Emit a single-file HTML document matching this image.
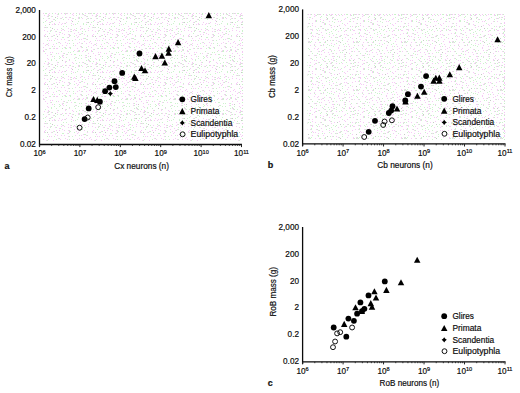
<!DOCTYPE html>
<html><head><meta charset="utf-8"><title>Scaling plots</title>
<style>html,body{margin:0;padding:0;background:#fff;width:520px;height:393px;overflow:hidden}svg{display:block}text{font-family:"Liberation Sans", sans-serif;stroke:#000;stroke-width:0.18px;fill:#111}</style>
</head><body>
<svg width="520" height="393" viewBox="0 0 520 393" font-family='"Liberation Sans", sans-serif' fill="#1a1a1a">
<defs><pattern id="pa" x="0" y="0" width="48" height="48" patternUnits="userSpaceOnUse"><rect x="1" y="0" width="1" height="1" fill="#f5cbf5"/><rect x="2" y="0" width="1" height="1" fill="#cdf3cd"/><rect x="5" y="0" width="1" height="1" fill="#f5cbf5"/><rect x="6" y="0" width="1" height="1" fill="#cdf3cd"/><rect x="8" y="0" width="1" height="1" fill="#f5cbf5"/><rect x="9" y="0" width="1" height="1" fill="#f5cbf5"/><rect x="14" y="0" width="1" height="1" fill="#cdf3cd"/><rect x="17" y="0" width="1" height="1" fill="#cdf3cd"/><rect x="18" y="0" width="1" height="1" fill="#cdf3cd"/><rect x="22" y="0" width="1" height="1" fill="#cdf3cd"/><rect x="26" y="2" width="1" height="1" fill="#f5cbf5"/><rect x="29" y="0" width="1" height="1" fill="#f5cbf5"/><rect x="30" y="2" width="1" height="1" fill="#f5cbf5"/><rect x="31" y="2" width="1" height="1" fill="#cdf3cd"/><rect x="35" y="2" width="1" height="1" fill="#f5cbf5"/><rect x="38" y="1" width="1" height="1" fill="#f5cbf5"/><rect x="39" y="1" width="1" height="1" fill="#cdf3cd"/><rect x="39" y="2" width="1" height="1" fill="#cdf3cd"/><rect x="38" y="2" width="1" height="1" fill="#f5cbf5"/><rect x="43" y="2" width="1" height="1" fill="#f5cbf5"/><rect x="46" y="1" width="1" height="1" fill="#cdf3cd"/><rect x="45" y="1" width="1" height="1" fill="#f5cbf5"/><rect x="2" y="4" width="1" height="1" fill="#f5cbf5"/><rect x="4" y="4" width="1" height="1" fill="#f5cbf5"/><rect x="8" y="5" width="1" height="1" fill="#cdf3cd"/><rect x="10" y="5" width="1" height="1" fill="#f5cbf5"/><rect x="13" y="3" width="1" height="1" fill="#cdf3cd"/><rect x="16" y="5" width="1" height="1" fill="#cdf3cd"/><rect x="15" y="5" width="1" height="1" fill="#f5cbf5"/><rect x="20" y="4" width="1" height="1" fill="#cdf3cd"/><rect x="22" y="4" width="1" height="1" fill="#cdf3cd"/><rect x="25" y="3" width="1" height="1" fill="#cdf3cd"/><rect x="29" y="3" width="1" height="1" fill="#f5cbf5"/><rect x="30" y="3" width="1" height="1" fill="#cdf3cd"/><rect x="31" y="3" width="1" height="1" fill="#cdf3cd"/><rect x="34" y="3" width="1" height="1" fill="#f5cbf5"/><rect x="37" y="3" width="1" height="1" fill="#cdf3cd"/><rect x="40" y="5" width="1" height="1" fill="#f5cbf5"/><rect x="43" y="3" width="1" height="1" fill="#f5cbf5"/><rect x="44" y="3" width="1" height="1" fill="#cdf3cd"/><rect x="45" y="5" width="1" height="1" fill="#f5cbf5"/><rect x="2" y="6" width="1" height="1" fill="#f5cbf5"/><rect x="3" y="6" width="1" height="1" fill="#cdf3cd"/><rect x="4" y="8" width="1" height="1" fill="#f5cbf5"/><rect x="6" y="8" width="1" height="1" fill="#cdf3cd"/><rect x="11" y="8" width="1" height="1" fill="#cdf3cd"/><rect x="14" y="8" width="1" height="1" fill="#f5cbf5"/><rect x="15" y="7" width="1" height="1" fill="#cdf3cd"/><rect x="14" y="7" width="1" height="1" fill="#f5cbf5"/><rect x="18" y="6" width="1" height="1" fill="#f5cbf5"/><rect x="19" y="6" width="1" height="1" fill="#cdf3cd"/><rect x="23" y="6" width="1" height="1" fill="#f5cbf5"/><rect x="26" y="6" width="1" height="1" fill="#cdf3cd"/><rect x="27" y="6" width="1" height="1" fill="#cdf3cd"/><rect x="31" y="7" width="1" height="1" fill="#cdf3cd"/><rect x="33" y="7" width="1" height="1" fill="#cdf3cd"/><rect x="37" y="7" width="1" height="1" fill="#f5cbf5"/><rect x="38" y="7" width="1" height="1" fill="#cdf3cd"/><rect x="40" y="8" width="1" height="1" fill="#f5cbf5"/><rect x="42" y="8" width="1" height="1" fill="#c6cac6"/><rect x="47" y="7" width="1" height="1" fill="#f5cbf5"/><rect x="0" y="11" width="1" height="1" fill="#f5cbf5"/><rect x="3" y="11" width="1" height="1" fill="#cdf3cd"/><rect x="6" y="10" width="1" height="1" fill="#cdf3cd"/><rect x="11" y="10" width="1" height="1" fill="#cdf3cd"/><rect x="12" y="9" width="1" height="1" fill="#cdf3cd"/><rect x="15" y="9" width="1" height="1" fill="#f5cbf5"/><rect x="18" y="9" width="1" height="1" fill="#cdf3cd"/><rect x="21" y="11" width="1" height="1" fill="#cdf3cd"/><rect x="26" y="10" width="1" height="1" fill="#cdf3cd"/><rect x="27" y="9" width="1" height="1" fill="#f5cbf5"/><rect x="28" y="9" width="1" height="1" fill="#cdf3cd"/><rect x="30" y="10" width="1" height="1" fill="#cdf3cd"/><rect x="33" y="10" width="1" height="1" fill="#cdf3cd"/><rect x="38" y="9" width="1" height="1" fill="#cdf3cd"/><rect x="37" y="9" width="1" height="1" fill="#f5cbf5"/><rect x="40" y="11" width="1" height="1" fill="#cdf3cd"/><rect x="42" y="10" width="1" height="1" fill="#cdf3cd"/><rect x="47" y="10" width="1" height="1" fill="#f5cbf5"/><rect x="0" y="14" width="1" height="1" fill="#f5cbf5"/><rect x="3" y="12" width="1" height="1" fill="#cdf3cd"/><rect x="8" y="12" width="1" height="1" fill="#cdf3cd"/><rect x="10" y="14" width="1" height="1" fill="#cdf3cd"/><rect x="9" y="14" width="1" height="1" fill="#f5cbf5"/><rect x="14" y="12" width="1" height="1" fill="#c6cac6"/><rect x="17" y="14" width="1" height="1" fill="#f5cbf5"/><rect x="18" y="13" width="1" height="1" fill="#cdf3cd"/><rect x="17" y="13" width="1" height="1" fill="#f5cbf5"/><rect x="21" y="12" width="1" height="1" fill="#f5cbf5"/><rect x="24" y="14" width="1" height="1" fill="#f5cbf5"/><rect x="27" y="12" width="1" height="1" fill="#cdf3cd"/><rect x="31" y="14" width="1" height="1" fill="#cdf3cd"/><rect x="34" y="14" width="1" height="1" fill="#f5cbf5"/><rect x="35" y="14" width="1" height="1" fill="#cdf3cd"/><rect x="38" y="12" width="1" height="1" fill="#cdf3cd"/><rect x="41" y="12" width="1" height="1" fill="#cdf3cd"/><rect x="40" y="12" width="1" height="1" fill="#f5cbf5"/><rect x="42" y="13" width="1" height="1" fill="#cdf3cd"/><rect x="41" y="13" width="1" height="1" fill="#f5cbf5"/><rect x="45" y="13" width="1" height="1" fill="#cdf3cd"/><rect x="1" y="15" width="1" height="1" fill="#cdf3cd"/><rect x="0" y="15" width="1" height="1" fill="#f5cbf5"/><rect x="3" y="16" width="1" height="1" fill="#f5cbf5"/><rect x="4" y="16" width="1" height="1" fill="#cdf3cd"/><rect x="7" y="17" width="1" height="1" fill="#c6cac6"/><rect x="9" y="16" width="1" height="1" fill="#f5cbf5"/><rect x="14" y="17" width="1" height="1" fill="#f5cbf5"/><rect x="17" y="17" width="1" height="1" fill="#cdf3cd"/><rect x="18" y="17" width="1" height="1" fill="#f5cbf5"/><rect x="22" y="17" width="1" height="1" fill="#cdf3cd"/><rect x="21" y="17" width="1" height="1" fill="#f5cbf5"/><rect x="25" y="15" width="1" height="1" fill="#f5cbf5"/><rect x="28" y="15" width="1" height="1" fill="#cdf3cd"/><rect x="30" y="17" width="1" height="1" fill="#f5cbf5"/><rect x="31" y="17" width="1" height="1" fill="#cdf3cd"/><rect x="33" y="17" width="1" height="1" fill="#cdf3cd"/><rect x="37" y="15" width="1" height="1" fill="#cdf3cd"/><rect x="36" y="15" width="1" height="1" fill="#f5cbf5"/><rect x="39" y="16" width="1" height="1" fill="#cdf3cd"/><rect x="38" y="16" width="1" height="1" fill="#f5cbf5"/><rect x="44" y="15" width="1" height="1" fill="#f5cbf5"/><rect x="47" y="16" width="1" height="1" fill="#f5cbf5"/><rect x="0" y="16" width="1" height="1" fill="#cdf3cd"/><rect x="1" y="18" width="1" height="1" fill="#cdf3cd"/><rect x="0" y="18" width="1" height="1" fill="#f5cbf5"/><rect x="5" y="19" width="1" height="1" fill="#f5cbf5"/><rect x="6" y="19" width="1" height="1" fill="#cdf3cd"/><rect x="7" y="20" width="1" height="1" fill="#cdf3cd"/><rect x="9" y="18" width="1" height="1" fill="#cdf3cd"/><rect x="12" y="18" width="1" height="1" fill="#f5cbf5"/><rect x="13" y="18" width="1" height="1" fill="#cdf3cd"/><rect x="15" y="19" width="1" height="1" fill="#cdf3cd"/><rect x="20" y="19" width="1" height="1" fill="#f5cbf5"/><rect x="23" y="20" width="1" height="1" fill="#f5cbf5"/><rect x="25" y="18" width="1" height="1" fill="#cdf3cd"/><rect x="24" y="18" width="1" height="1" fill="#f5cbf5"/><rect x="27" y="19" width="1" height="1" fill="#cdf3cd"/><rect x="31" y="18" width="1" height="1" fill="#cdf3cd"/><rect x="30" y="18" width="1" height="1" fill="#f5cbf5"/><rect x="34" y="18" width="1" height="1" fill="#f5cbf5"/><rect x="38" y="19" width="1" height="1" fill="#cdf3cd"/><rect x="39" y="18" width="1" height="1" fill="#f5cbf5"/><rect x="40" y="18" width="1" height="1" fill="#cdf3cd"/><rect x="42" y="18" width="1" height="1" fill="#f5cbf5"/><rect x="43" y="18" width="1" height="1" fill="#cdf3cd"/><rect x="46" y="20" width="1" height="1" fill="#f5cbf5"/><rect x="1" y="22" width="1" height="1" fill="#f5cbf5"/><rect x="2" y="22" width="1" height="1" fill="#cdf3cd"/><rect x="4" y="21" width="1" height="1" fill="#cdf3cd"/><rect x="3" y="21" width="1" height="1" fill="#f5cbf5"/><rect x="6" y="23" width="1" height="1" fill="#f5cbf5"/><rect x="11" y="22" width="1" height="1" fill="#f5cbf5"/><rect x="14" y="23" width="1" height="1" fill="#f5cbf5"/><rect x="16" y="23" width="1" height="1" fill="#f5cbf5"/><rect x="17" y="23" width="1" height="1" fill="#cdf3cd"/><rect x="18" y="22" width="1" height="1" fill="#f5cbf5"/><rect x="23" y="23" width="1" height="1" fill="#f5cbf5"/><rect x="24" y="21" width="1" height="1" fill="#c6cac6"/><rect x="29" y="23" width="1" height="1" fill="#cdf3cd"/><rect x="30" y="21" width="1" height="1" fill="#cdf3cd"/><rect x="35" y="23" width="1" height="1" fill="#cdf3cd"/><rect x="38" y="22" width="1" height="1" fill="#f5cbf5"/><rect x="39" y="22" width="1" height="1" fill="#cdf3cd"/><rect x="40" y="22" width="1" height="1" fill="#c6cac6"/><rect x="43" y="22" width="1" height="1" fill="#cdf3cd"/><rect x="45" y="21" width="1" height="1" fill="#cdf3cd"/><rect x="1" y="24" width="1" height="1" fill="#c6cac6"/><rect x="4" y="24" width="1" height="1" fill="#f5cbf5"/><rect x="6" y="24" width="1" height="1" fill="#f5cbf5"/><rect x="7" y="24" width="1" height="1" fill="#cdf3cd"/><rect x="10" y="24" width="1" height="1" fill="#f5cbf5"/><rect x="13" y="24" width="1" height="1" fill="#f5cbf5"/><rect x="15" y="26" width="1" height="1" fill="#cdf3cd"/><rect x="18" y="26" width="1" height="1" fill="#cdf3cd"/><rect x="23" y="25" width="1" height="1" fill="#cdf3cd"/><rect x="25" y="24" width="1" height="1" fill="#f5cbf5"/><rect x="27" y="24" width="1" height="1" fill="#cdf3cd"/><rect x="32" y="26" width="1" height="1" fill="#f5cbf5"/><rect x="35" y="24" width="1" height="1" fill="#cdf3cd"/><rect x="38" y="24" width="1" height="1" fill="#cdf3cd"/><rect x="41" y="26" width="1" height="1" fill="#cdf3cd"/><rect x="42" y="24" width="1" height="1" fill="#f5cbf5"/><rect x="45" y="25" width="1" height="1" fill="#cdf3cd"/><rect x="2" y="27" width="1" height="1" fill="#cdf3cd"/><rect x="4" y="28" width="1" height="1" fill="#c6cac6"/><rect x="6" y="29" width="1" height="1" fill="#cdf3cd"/><rect x="9" y="29" width="1" height="1" fill="#f5cbf5"/><rect x="13" y="28" width="1" height="1" fill="#cdf3cd"/><rect x="15" y="29" width="1" height="1" fill="#cdf3cd"/><rect x="14" y="29" width="1" height="1" fill="#f5cbf5"/><rect x="20" y="28" width="1" height="1" fill="#f5cbf5"/><rect x="22" y="29" width="1" height="1" fill="#f5cbf5"/><rect x="23" y="29" width="1" height="1" fill="#cdf3cd"/><rect x="26" y="29" width="1" height="1" fill="#f5cbf5"/><rect x="28" y="28" width="1" height="1" fill="#cdf3cd"/><rect x="32" y="29" width="1" height="1" fill="#f5cbf5"/><rect x="34" y="28" width="1" height="1" fill="#cdf3cd"/><rect x="33" y="28" width="1" height="1" fill="#f5cbf5"/><rect x="36" y="29" width="1" height="1" fill="#f5cbf5"/><rect x="40" y="28" width="1" height="1" fill="#f5cbf5"/><rect x="44" y="27" width="1" height="1" fill="#f5cbf5"/><rect x="45" y="27" width="1" height="1" fill="#cdf3cd"/><rect x="46" y="27" width="1" height="1" fill="#f5cbf5"/><rect x="47" y="27" width="1" height="1" fill="#cdf3cd"/><rect x="2" y="31" width="1" height="1" fill="#cdf3cd"/><rect x="3" y="30" width="1" height="1" fill="#cdf3cd"/><rect x="2" y="30" width="1" height="1" fill="#f5cbf5"/><rect x="8" y="31" width="1" height="1" fill="#cdf3cd"/><rect x="7" y="31" width="1" height="1" fill="#f5cbf5"/><rect x="11" y="32" width="1" height="1" fill="#f5cbf5"/><rect x="12" y="32" width="1" height="1" fill="#cdf3cd"/><rect x="13" y="30" width="1" height="1" fill="#f5cbf5"/><rect x="16" y="30" width="1" height="1" fill="#f5cbf5"/><rect x="20" y="31" width="1" height="1" fill="#f5cbf5"/><rect x="22" y="31" width="1" height="1" fill="#f5cbf5"/><rect x="23" y="31" width="1" height="1" fill="#cdf3cd"/><rect x="25" y="30" width="1" height="1" fill="#f5cbf5"/><rect x="28" y="30" width="1" height="1" fill="#cdf3cd"/><rect x="27" y="30" width="1" height="1" fill="#f5cbf5"/><rect x="30" y="32" width="1" height="1" fill="#f5cbf5"/><rect x="34" y="31" width="1" height="1" fill="#cdf3cd"/><rect x="37" y="31" width="1" height="1" fill="#cdf3cd"/><rect x="40" y="30" width="1" height="1" fill="#f5cbf5"/><rect x="44" y="30" width="1" height="1" fill="#f5cbf5"/><rect x="47" y="31" width="1" height="1" fill="#f5cbf5"/><rect x="1" y="33" width="1" height="1" fill="#cdf3cd"/><rect x="5" y="35" width="1" height="1" fill="#f5cbf5"/><rect x="6" y="35" width="1" height="1" fill="#cdf3cd"/><rect x="8" y="34" width="1" height="1" fill="#f5cbf5"/><rect x="11" y="34" width="1" height="1" fill="#f5cbf5"/><rect x="14" y="33" width="1" height="1" fill="#f5cbf5"/><rect x="16" y="34" width="1" height="1" fill="#f5cbf5"/><rect x="20" y="34" width="1" height="1" fill="#f5cbf5"/><rect x="21" y="34" width="1" height="1" fill="#cdf3cd"/><rect x="22" y="35" width="1" height="1" fill="#cdf3cd"/><rect x="21" y="35" width="1" height="1" fill="#f5cbf5"/><rect x="26" y="33" width="1" height="1" fill="#f5cbf5"/><rect x="28" y="35" width="1" height="1" fill="#f5cbf5"/><rect x="31" y="34" width="1" height="1" fill="#f5cbf5"/><rect x="32" y="34" width="1" height="1" fill="#cdf3cd"/><rect x="33" y="33" width="1" height="1" fill="#f5cbf5"/><rect x="34" y="33" width="1" height="1" fill="#cdf3cd"/><rect x="36" y="34" width="1" height="1" fill="#f5cbf5"/><rect x="39" y="35" width="1" height="1" fill="#cdf3cd"/><rect x="44" y="35" width="1" height="1" fill="#f5cbf5"/><rect x="45" y="34" width="1" height="1" fill="#f5cbf5"/><rect x="0" y="38" width="1" height="1" fill="#f5cbf5"/><rect x="3" y="36" width="1" height="1" fill="#f5cbf5"/><rect x="4" y="36" width="1" height="1" fill="#cdf3cd"/><rect x="7" y="38" width="1" height="1" fill="#f5cbf5"/><rect x="9" y="36" width="1" height="1" fill="#c6cac6"/><rect x="14" y="37" width="1" height="1" fill="#cdf3cd"/><rect x="15" y="37" width="1" height="1" fill="#cdf3cd"/><rect x="20" y="37" width="1" height="1" fill="#cdf3cd"/><rect x="19" y="37" width="1" height="1" fill="#f5cbf5"/><rect x="21" y="36" width="1" height="1" fill="#f5cbf5"/><rect x="26" y="36" width="1" height="1" fill="#cdf3cd"/><rect x="29" y="37" width="1" height="1" fill="#f5cbf5"/><rect x="30" y="36" width="1" height="1" fill="#f5cbf5"/><rect x="35" y="38" width="1" height="1" fill="#f5cbf5"/><rect x="36" y="38" width="1" height="1" fill="#cdf3cd"/><rect x="37" y="38" width="1" height="1" fill="#cdf3cd"/><rect x="39" y="36" width="1" height="1" fill="#f5cbf5"/><rect x="44" y="36" width="1" height="1" fill="#f5cbf5"/><rect x="45" y="36" width="1" height="1" fill="#cdf3cd"/><rect x="47" y="36" width="1" height="1" fill="#c6cac6"/><rect x="1" y="40" width="1" height="1" fill="#f5cbf5"/><rect x="3" y="40" width="1" height="1" fill="#f5cbf5"/><rect x="6" y="40" width="1" height="1" fill="#cdf3cd"/><rect x="9" y="39" width="1" height="1" fill="#f5cbf5"/><rect x="13" y="39" width="1" height="1" fill="#f5cbf5"/><rect x="16" y="39" width="1" height="1" fill="#f5cbf5"/><rect x="20" y="40" width="1" height="1" fill="#f5cbf5"/><rect x="21" y="40" width="1" height="1" fill="#cdf3cd"/><rect x="24" y="40" width="1" height="1" fill="#cdf3cd"/><rect x="27" y="39" width="1" height="1" fill="#f5cbf5"/><rect x="31" y="39" width="1" height="1" fill="#cdf3cd"/><rect x="33" y="39" width="1" height="1" fill="#f5cbf5"/><rect x="36" y="41" width="1" height="1" fill="#f5cbf5"/><rect x="39" y="39" width="1" height="1" fill="#cdf3cd"/><rect x="38" y="39" width="1" height="1" fill="#f5cbf5"/><rect x="42" y="41" width="1" height="1" fill="#f5cbf5"/><rect x="47" y="40" width="1" height="1" fill="#cdf3cd"/><rect x="0" y="43" width="1" height="1" fill="#f5cbf5"/><rect x="5" y="44" width="1" height="1" fill="#f5cbf5"/><rect x="8" y="43" width="1" height="1" fill="#cdf3cd"/><rect x="10" y="42" width="1" height="1" fill="#f5cbf5"/><rect x="11" y="42" width="1" height="1" fill="#cdf3cd"/><rect x="12" y="43" width="1" height="1" fill="#f5cbf5"/><rect x="17" y="42" width="1" height="1" fill="#f5cbf5"/><rect x="19" y="43" width="1" height="1" fill="#f5cbf5"/><rect x="21" y="43" width="1" height="1" fill="#cdf3cd"/><rect x="25" y="43" width="1" height="1" fill="#cdf3cd"/><rect x="29" y="43" width="1" height="1" fill="#f5cbf5"/><rect x="31" y="42" width="1" height="1" fill="#f5cbf5"/><rect x="33" y="43" width="1" height="1" fill="#f5cbf5"/><rect x="34" y="43" width="1" height="1" fill="#cdf3cd"/><rect x="38" y="43" width="1" height="1" fill="#f5cbf5"/><rect x="41" y="42" width="1" height="1" fill="#f5cbf5"/><rect x="43" y="43" width="1" height="1" fill="#f5cbf5"/><rect x="47" y="44" width="1" height="1" fill="#cdf3cd"/><rect x="46" y="44" width="1" height="1" fill="#f5cbf5"/><rect x="0" y="45" width="1" height="1" fill="#f5cbf5"/><rect x="4" y="46" width="1" height="1" fill="#cdf3cd"/><rect x="6" y="46" width="1" height="1" fill="#f5cbf5"/><rect x="11" y="46" width="1" height="1" fill="#cdf3cd"/><rect x="14" y="45" width="1" height="1" fill="#f5cbf5"/><rect x="16" y="47" width="1" height="1" fill="#f5cbf5"/><rect x="17" y="47" width="1" height="1" fill="#cdf3cd"/><rect x="18" y="45" width="1" height="1" fill="#f5cbf5"/><rect x="22" y="47" width="1" height="1" fill="#cdf3cd"/><rect x="21" y="47" width="1" height="1" fill="#f5cbf5"/><rect x="25" y="45" width="1" height="1" fill="#cdf3cd"/><rect x="27" y="45" width="1" height="1" fill="#f5cbf5"/><rect x="32" y="46" width="1" height="1" fill="#f5cbf5"/><rect x="33" y="46" width="1" height="1" fill="#cdf3cd"/><rect x="34" y="47" width="1" height="1" fill="#cdf3cd"/><rect x="33" y="47" width="1" height="1" fill="#f5cbf5"/><rect x="38" y="47" width="1" height="1" fill="#cdf3cd"/><rect x="40" y="46" width="1" height="1" fill="#f5cbf5"/><rect x="43" y="47" width="1" height="1" fill="#f5cbf5"/><rect x="45" y="45" width="1" height="1" fill="#f5cbf5"/></pattern><pattern id="pb" x="0" y="0" width="48" height="48" patternUnits="userSpaceOnUse"><rect x="2" y="0" width="1" height="1" fill="#f5cbf5"/><rect x="3" y="2" width="1" height="1" fill="#f5cbf5"/><rect x="6" y="2" width="1" height="1" fill="#f5cbf5"/><rect x="7" y="2" width="1" height="1" fill="#cdf3cd"/><rect x="9" y="1" width="1" height="1" fill="#cdf3cd"/><rect x="8" y="1" width="1" height="1" fill="#f5cbf5"/><rect x="13" y="1" width="1" height="1" fill="#f5cbf5"/><rect x="15" y="0" width="1" height="1" fill="#f5cbf5"/><rect x="20" y="0" width="1" height="1" fill="#cdf3cd"/><rect x="21" y="1" width="1" height="1" fill="#cdf3cd"/><rect x="26" y="0" width="1" height="1" fill="#f5cbf5"/><rect x="29" y="1" width="1" height="1" fill="#f5cbf5"/><rect x="30" y="0" width="1" height="1" fill="#f5cbf5"/><rect x="35" y="2" width="1" height="1" fill="#cdf3cd"/><rect x="34" y="2" width="1" height="1" fill="#f5cbf5"/><rect x="36" y="1" width="1" height="1" fill="#f5cbf5"/><rect x="41" y="1" width="1" height="1" fill="#f5cbf5"/><rect x="42" y="1" width="1" height="1" fill="#cdf3cd"/><rect x="43" y="2" width="1" height="1" fill="#f5cbf5"/><rect x="46" y="2" width="1" height="1" fill="#cdf3cd"/><rect x="0" y="5" width="1" height="1" fill="#f5cbf5"/><rect x="4" y="4" width="1" height="1" fill="#cdf3cd"/><rect x="6" y="4" width="1" height="1" fill="#cdf3cd"/><rect x="10" y="4" width="1" height="1" fill="#c6cac6"/><rect x="13" y="5" width="1" height="1" fill="#f5cbf5"/><rect x="15" y="3" width="1" height="1" fill="#f5cbf5"/><rect x="16" y="3" width="1" height="1" fill="#cdf3cd"/><rect x="18" y="3" width="1" height="1" fill="#f5cbf5"/><rect x="22" y="3" width="1" height="1" fill="#f5cbf5"/><rect x="23" y="3" width="1" height="1" fill="#cdf3cd"/><rect x="24" y="5" width="1" height="1" fill="#cdf3cd"/><rect x="29" y="5" width="1" height="1" fill="#cdf3cd"/><rect x="30" y="3" width="1" height="1" fill="#f5cbf5"/><rect x="31" y="3" width="1" height="1" fill="#cdf3cd"/><rect x="33" y="3" width="1" height="1" fill="#f5cbf5"/><rect x="36" y="4" width="1" height="1" fill="#f5cbf5"/><rect x="40" y="4" width="1" height="1" fill="#f5cbf5"/><rect x="43" y="3" width="1" height="1" fill="#cdf3cd"/><rect x="45" y="5" width="1" height="1" fill="#cdf3cd"/><rect x="44" y="5" width="1" height="1" fill="#f5cbf5"/><rect x="1" y="8" width="1" height="1" fill="#cdf3cd"/><rect x="3" y="8" width="1" height="1" fill="#f5cbf5"/><rect x="8" y="6" width="1" height="1" fill="#f5cbf5"/><rect x="9" y="6" width="1" height="1" fill="#cdf3cd"/><rect x="9" y="8" width="1" height="1" fill="#cdf3cd"/><rect x="8" y="8" width="1" height="1" fill="#f5cbf5"/><rect x="14" y="8" width="1" height="1" fill="#f5cbf5"/><rect x="15" y="7" width="1" height="1" fill="#cdf3cd"/><rect x="20" y="7" width="1" height="1" fill="#cdf3cd"/><rect x="21" y="7" width="1" height="1" fill="#f5cbf5"/><rect x="26" y="7" width="1" height="1" fill="#f5cbf5"/><rect x="27" y="7" width="1" height="1" fill="#cdf3cd"/><rect x="28" y="7" width="1" height="1" fill="#f5cbf5"/><rect x="31" y="6" width="1" height="1" fill="#cdf3cd"/><rect x="33" y="6" width="1" height="1" fill="#f5cbf5"/><rect x="37" y="8" width="1" height="1" fill="#f5cbf5"/><rect x="38" y="8" width="1" height="1" fill="#cdf3cd"/><rect x="41" y="6" width="1" height="1" fill="#f5cbf5"/><rect x="44" y="8" width="1" height="1" fill="#f5cbf5"/><rect x="46" y="8" width="1" height="1" fill="#cdf3cd"/><rect x="45" y="8" width="1" height="1" fill="#f5cbf5"/><rect x="0" y="11" width="1" height="1" fill="#cdf3cd"/><rect x="3" y="9" width="1" height="1" fill="#cdf3cd"/><rect x="6" y="11" width="1" height="1" fill="#cdf3cd"/><rect x="9" y="10" width="1" height="1" fill="#cdf3cd"/><rect x="13" y="11" width="1" height="1" fill="#f5cbf5"/><rect x="15" y="10" width="1" height="1" fill="#f5cbf5"/><rect x="18" y="11" width="1" height="1" fill="#f5cbf5"/><rect x="22" y="10" width="1" height="1" fill="#f5cbf5"/><rect x="23" y="10" width="1" height="1" fill="#cdf3cd"/><rect x="24" y="11" width="1" height="1" fill="#cdf3cd"/><rect x="28" y="9" width="1" height="1" fill="#cdf3cd"/><rect x="32" y="9" width="1" height="1" fill="#cdf3cd"/><rect x="34" y="11" width="1" height="1" fill="#f5cbf5"/><rect x="36" y="10" width="1" height="1" fill="#cdf3cd"/><rect x="40" y="11" width="1" height="1" fill="#cdf3cd"/><rect x="43" y="11" width="1" height="1" fill="#f5cbf5"/><rect x="45" y="10" width="1" height="1" fill="#f5cbf5"/><rect x="0" y="13" width="1" height="1" fill="#cdf3cd"/><rect x="5" y="14" width="1" height="1" fill="#cdf3cd"/><rect x="8" y="12" width="1" height="1" fill="#cdf3cd"/><rect x="7" y="12" width="1" height="1" fill="#f5cbf5"/><rect x="10" y="14" width="1" height="1" fill="#cdf3cd"/><rect x="13" y="12" width="1" height="1" fill="#f5cbf5"/><rect x="14" y="12" width="1" height="1" fill="#cdf3cd"/><rect x="17" y="12" width="1" height="1" fill="#c6cac6"/><rect x="18" y="14" width="1" height="1" fill="#f5cbf5"/><rect x="19" y="14" width="1" height="1" fill="#cdf3cd"/><rect x="22" y="14" width="1" height="1" fill="#f5cbf5"/><rect x="26" y="12" width="1" height="1" fill="#f5cbf5"/><rect x="28" y="12" width="1" height="1" fill="#f5cbf5"/><rect x="30" y="14" width="1" height="1" fill="#f5cbf5"/><rect x="31" y="14" width="1" height="1" fill="#cdf3cd"/><rect x="35" y="12" width="1" height="1" fill="#cdf3cd"/><rect x="37" y="13" width="1" height="1" fill="#cdf3cd"/><rect x="36" y="13" width="1" height="1" fill="#f5cbf5"/><rect x="41" y="13" width="1" height="1" fill="#cdf3cd"/><rect x="44" y="14" width="1" height="1" fill="#cdf3cd"/><rect x="43" y="14" width="1" height="1" fill="#f5cbf5"/><rect x="45" y="12" width="1" height="1" fill="#f5cbf5"/><rect x="46" y="12" width="1" height="1" fill="#cdf3cd"/><rect x="0" y="15" width="1" height="1" fill="#f5cbf5"/><rect x="3" y="15" width="1" height="1" fill="#cdf3cd"/><rect x="6" y="15" width="1" height="1" fill="#f5cbf5"/><rect x="11" y="17" width="1" height="1" fill="#cdf3cd"/><rect x="14" y="15" width="1" height="1" fill="#f5cbf5"/><rect x="15" y="15" width="1" height="1" fill="#cdf3cd"/><rect x="17" y="15" width="1" height="1" fill="#cdf3cd"/><rect x="19" y="17" width="1" height="1" fill="#cdf3cd"/><rect x="22" y="17" width="1" height="1" fill="#cdf3cd"/><rect x="21" y="17" width="1" height="1" fill="#f5cbf5"/><rect x="26" y="16" width="1" height="1" fill="#f5cbf5"/><rect x="28" y="15" width="1" height="1" fill="#cdf3cd"/><rect x="27" y="15" width="1" height="1" fill="#f5cbf5"/><rect x="32" y="17" width="1" height="1" fill="#cdf3cd"/><rect x="33" y="16" width="1" height="1" fill="#cdf3cd"/><rect x="38" y="17" width="1" height="1" fill="#cdf3cd"/><rect x="39" y="15" width="1" height="1" fill="#cdf3cd"/><rect x="38" y="15" width="1" height="1" fill="#f5cbf5"/><rect x="43" y="15" width="1" height="1" fill="#cdf3cd"/><rect x="42" y="15" width="1" height="1" fill="#f5cbf5"/><rect x="45" y="17" width="1" height="1" fill="#cdf3cd"/><rect x="44" y="17" width="1" height="1" fill="#f5cbf5"/><rect x="1" y="19" width="1" height="1" fill="#cdf3cd"/><rect x="5" y="20" width="1" height="1" fill="#cdf3cd"/><rect x="8" y="19" width="1" height="1" fill="#f5cbf5"/><rect x="9" y="18" width="1" height="1" fill="#f5cbf5"/><rect x="14" y="19" width="1" height="1" fill="#cdf3cd"/><rect x="17" y="18" width="1" height="1" fill="#cdf3cd"/><rect x="16" y="18" width="1" height="1" fill="#f5cbf5"/><rect x="18" y="18" width="1" height="1" fill="#f5cbf5"/><rect x="21" y="19" width="1" height="1" fill="#cdf3cd"/><rect x="24" y="18" width="1" height="1" fill="#f5cbf5"/><rect x="27" y="20" width="1" height="1" fill="#f5cbf5"/><rect x="28" y="20" width="1" height="1" fill="#cdf3cd"/><rect x="32" y="19" width="1" height="1" fill="#f5cbf5"/><rect x="35" y="20" width="1" height="1" fill="#f5cbf5"/><rect x="38" y="19" width="1" height="1" fill="#f5cbf5"/><rect x="39" y="19" width="1" height="1" fill="#cdf3cd"/><rect x="39" y="18" width="1" height="1" fill="#c6cac6"/><rect x="44" y="18" width="1" height="1" fill="#cdf3cd"/><rect x="46" y="19" width="1" height="1" fill="#f5cbf5"/><rect x="47" y="19" width="1" height="1" fill="#cdf3cd"/><rect x="2" y="21" width="1" height="1" fill="#f5cbf5"/><rect x="4" y="21" width="1" height="1" fill="#f5cbf5"/><rect x="6" y="23" width="1" height="1" fill="#cdf3cd"/><rect x="11" y="23" width="1" height="1" fill="#f5cbf5"/><rect x="14" y="21" width="1" height="1" fill="#cdf3cd"/><rect x="13" y="21" width="1" height="1" fill="#f5cbf5"/><rect x="17" y="21" width="1" height="1" fill="#f5cbf5"/><rect x="20" y="23" width="1" height="1" fill="#f5cbf5"/><rect x="21" y="23" width="1" height="1" fill="#cdf3cd"/><rect x="24" y="23" width="1" height="1" fill="#f5cbf5"/><rect x="27" y="21" width="1" height="1" fill="#f5cbf5"/><rect x="28" y="21" width="1" height="1" fill="#cdf3cd"/><rect x="32" y="21" width="1" height="1" fill="#cdf3cd"/><rect x="35" y="22" width="1" height="1" fill="#cdf3cd"/><rect x="34" y="22" width="1" height="1" fill="#f5cbf5"/><rect x="36" y="23" width="1" height="1" fill="#f5cbf5"/><rect x="37" y="23" width="1" height="1" fill="#cdf3cd"/><rect x="41" y="21" width="1" height="1" fill="#f5cbf5"/><rect x="44" y="21" width="1" height="1" fill="#cdf3cd"/><rect x="46" y="22" width="1" height="1" fill="#cdf3cd"/><rect x="1" y="26" width="1" height="1" fill="#c6cac6"/><rect x="3" y="25" width="1" height="1" fill="#f5cbf5"/><rect x="8" y="24" width="1" height="1" fill="#f5cbf5"/><rect x="9" y="25" width="1" height="1" fill="#f5cbf5"/><rect x="14" y="26" width="1" height="1" fill="#cdf3cd"/><rect x="16" y="26" width="1" height="1" fill="#f5cbf5"/><rect x="20" y="26" width="1" height="1" fill="#cdf3cd"/><rect x="19" y="26" width="1" height="1" fill="#f5cbf5"/><rect x="22" y="26" width="1" height="1" fill="#cdf3cd"/><rect x="24" y="25" width="1" height="1" fill="#f5cbf5"/><rect x="27" y="26" width="1" height="1" fill="#f5cbf5"/><rect x="32" y="26" width="1" height="1" fill="#f5cbf5"/><rect x="33" y="26" width="1" height="1" fill="#cdf3cd"/><rect x="36" y="24" width="1" height="1" fill="#f5cbf5"/><rect x="37" y="24" width="1" height="1" fill="#cdf3cd"/><rect x="41" y="24" width="1" height="1" fill="#f5cbf5"/><rect x="42" y="25" width="1" height="1" fill="#f5cbf5"/><rect x="43" y="25" width="1" height="1" fill="#cdf3cd"/><rect x="46" y="26" width="1" height="1" fill="#f5cbf5"/><rect x="0" y="29" width="1" height="1" fill="#cdf3cd"/><rect x="4" y="28" width="1" height="1" fill="#c6cac6"/><rect x="7" y="28" width="1" height="1" fill="#cdf3cd"/><rect x="11" y="28" width="1" height="1" fill="#f5cbf5"/><rect x="12" y="28" width="1" height="1" fill="#cdf3cd"/><rect x="14" y="29" width="1" height="1" fill="#f5cbf5"/><rect x="16" y="29" width="1" height="1" fill="#cdf3cd"/><rect x="19" y="27" width="1" height="1" fill="#cdf3cd"/><rect x="23" y="29" width="1" height="1" fill="#cdf3cd"/><rect x="22" y="29" width="1" height="1" fill="#f5cbf5"/><rect x="24" y="29" width="1" height="1" fill="#f5cbf5"/><rect x="28" y="29" width="1" height="1" fill="#cdf3cd"/><rect x="30" y="28" width="1" height="1" fill="#cdf3cd"/><rect x="34" y="28" width="1" height="1" fill="#f5cbf5"/><rect x="35" y="28" width="1" height="1" fill="#cdf3cd"/><rect x="37" y="29" width="1" height="1" fill="#cdf3cd"/><rect x="39" y="29" width="1" height="1" fill="#f5cbf5"/><rect x="40" y="29" width="1" height="1" fill="#cdf3cd"/><rect x="43" y="27" width="1" height="1" fill="#f5cbf5"/><rect x="45" y="29" width="1" height="1" fill="#cdf3cd"/><rect x="2" y="31" width="1" height="1" fill="#f5cbf5"/><rect x="5" y="30" width="1" height="1" fill="#cdf3cd"/><rect x="8" y="31" width="1" height="1" fill="#f5cbf5"/><rect x="10" y="30" width="1" height="1" fill="#cdf3cd"/><rect x="9" y="30" width="1" height="1" fill="#f5cbf5"/><rect x="14" y="30" width="1" height="1" fill="#cdf3cd"/><rect x="17" y="30" width="1" height="1" fill="#f5cbf5"/><rect x="18" y="30" width="1" height="1" fill="#f5cbf5"/><rect x="23" y="32" width="1" height="1" fill="#cdf3cd"/><rect x="24" y="30" width="1" height="1" fill="#f5cbf5"/><rect x="29" y="30" width="1" height="1" fill="#cdf3cd"/><rect x="31" y="30" width="1" height="1" fill="#f5cbf5"/><rect x="33" y="32" width="1" height="1" fill="#f5cbf5"/><rect x="38" y="30" width="1" height="1" fill="#cdf3cd"/><rect x="37" y="30" width="1" height="1" fill="#f5cbf5"/><rect x="41" y="32" width="1" height="1" fill="#cdf3cd"/><rect x="43" y="31" width="1" height="1" fill="#cdf3cd"/><rect x="47" y="30" width="1" height="1" fill="#cdf3cd"/><rect x="0" y="34" width="1" height="1" fill="#cdf3cd"/><rect x="4" y="35" width="1" height="1" fill="#f5cbf5"/><rect x="5" y="35" width="1" height="1" fill="#cdf3cd"/><rect x="8" y="34" width="1" height="1" fill="#f5cbf5"/><rect x="10" y="34" width="1" height="1" fill="#f5cbf5"/><rect x="12" y="35" width="1" height="1" fill="#cdf3cd"/><rect x="11" y="35" width="1" height="1" fill="#f5cbf5"/><rect x="16" y="34" width="1" height="1" fill="#f5cbf5"/><rect x="19" y="33" width="1" height="1" fill="#f5cbf5"/><rect x="23" y="33" width="1" height="1" fill="#cdf3cd"/><rect x="22" y="33" width="1" height="1" fill="#f5cbf5"/><rect x="24" y="35" width="1" height="1" fill="#f5cbf5"/><rect x="29" y="33" width="1" height="1" fill="#cdf3cd"/><rect x="28" y="33" width="1" height="1" fill="#f5cbf5"/><rect x="31" y="34" width="1" height="1" fill="#cdf3cd"/><rect x="30" y="34" width="1" height="1" fill="#f5cbf5"/><rect x="34" y="35" width="1" height="1" fill="#f5cbf5"/><rect x="38" y="33" width="1" height="1" fill="#cdf3cd"/><rect x="41" y="34" width="1" height="1" fill="#f5cbf5"/><rect x="44" y="33" width="1" height="1" fill="#cdf3cd"/><rect x="45" y="35" width="1" height="1" fill="#f5cbf5"/><rect x="0" y="37" width="1" height="1" fill="#f5cbf5"/><rect x="1" y="37" width="1" height="1" fill="#cdf3cd"/><rect x="4" y="36" width="1" height="1" fill="#cdf3cd"/><rect x="3" y="36" width="1" height="1" fill="#f5cbf5"/><rect x="6" y="38" width="1" height="1" fill="#cdf3cd"/><rect x="9" y="37" width="1" height="1" fill="#f5cbf5"/><rect x="14" y="37" width="1" height="1" fill="#cdf3cd"/><rect x="16" y="38" width="1" height="1" fill="#f5cbf5"/><rect x="20" y="38" width="1" height="1" fill="#c6cac6"/><rect x="23" y="36" width="1" height="1" fill="#cdf3cd"/><rect x="25" y="36" width="1" height="1" fill="#f5cbf5"/><rect x="27" y="36" width="1" height="1" fill="#f5cbf5"/><rect x="30" y="37" width="1" height="1" fill="#f5cbf5"/><rect x="34" y="37" width="1" height="1" fill="#cdf3cd"/><rect x="36" y="37" width="1" height="1" fill="#f5cbf5"/><rect x="41" y="36" width="1" height="1" fill="#cdf3cd"/><rect x="43" y="37" width="1" height="1" fill="#f5cbf5"/><rect x="47" y="37" width="1" height="1" fill="#cdf3cd"/><rect x="0" y="40" width="1" height="1" fill="#f5cbf5"/><rect x="3" y="41" width="1" height="1" fill="#cdf3cd"/><rect x="2" y="41" width="1" height="1" fill="#f5cbf5"/><rect x="6" y="40" width="1" height="1" fill="#cdf3cd"/><rect x="11" y="41" width="1" height="1" fill="#f5cbf5"/><rect x="12" y="39" width="1" height="1" fill="#f5cbf5"/><rect x="17" y="41" width="1" height="1" fill="#f5cbf5"/><rect x="20" y="41" width="1" height="1" fill="#f5cbf5"/><rect x="21" y="41" width="1" height="1" fill="#cdf3cd"/><rect x="23" y="41" width="1" height="1" fill="#cdf3cd"/><rect x="24" y="39" width="1" height="1" fill="#f5cbf5"/><rect x="29" y="39" width="1" height="1" fill="#f5cbf5"/><rect x="30" y="39" width="1" height="1" fill="#cdf3cd"/><rect x="30" y="40" width="1" height="1" fill="#cdf3cd"/><rect x="35" y="39" width="1" height="1" fill="#f5cbf5"/><rect x="37" y="41" width="1" height="1" fill="#cdf3cd"/><rect x="39" y="40" width="1" height="1" fill="#c6cac6"/><rect x="42" y="40" width="1" height="1" fill="#cdf3cd"/><rect x="45" y="40" width="1" height="1" fill="#cdf3cd"/><rect x="44" y="40" width="1" height="1" fill="#f5cbf5"/><rect x="0" y="43" width="1" height="1" fill="#cdf3cd"/><rect x="4" y="42" width="1" height="1" fill="#c6cac6"/><rect x="7" y="44" width="1" height="1" fill="#cdf3cd"/><rect x="9" y="43" width="1" height="1" fill="#cdf3cd"/><rect x="12" y="44" width="1" height="1" fill="#f5cbf5"/><rect x="17" y="42" width="1" height="1" fill="#f5cbf5"/><rect x="18" y="42" width="1" height="1" fill="#cdf3cd"/><rect x="20" y="42" width="1" height="1" fill="#cdf3cd"/><rect x="21" y="42" width="1" height="1" fill="#f5cbf5"/><rect x="22" y="42" width="1" height="1" fill="#cdf3cd"/><rect x="26" y="44" width="1" height="1" fill="#f5cbf5"/><rect x="27" y="42" width="1" height="1" fill="#f5cbf5"/><rect x="32" y="42" width="1" height="1" fill="#cdf3cd"/><rect x="31" y="42" width="1" height="1" fill="#f5cbf5"/><rect x="35" y="44" width="1" height="1" fill="#cdf3cd"/><rect x="37" y="42" width="1" height="1" fill="#cdf3cd"/><rect x="36" y="42" width="1" height="1" fill="#f5cbf5"/><rect x="39" y="44" width="1" height="1" fill="#cdf3cd"/><rect x="43" y="43" width="1" height="1" fill="#f5cbf5"/><rect x="46" y="44" width="1" height="1" fill="#f5cbf5"/><rect x="2" y="47" width="1" height="1" fill="#f5cbf5"/><rect x="3" y="45" width="1" height="1" fill="#f5cbf5"/><rect x="8" y="46" width="1" height="1" fill="#f5cbf5"/><rect x="10" y="46" width="1" height="1" fill="#cdf3cd"/><rect x="13" y="46" width="1" height="1" fill="#f5cbf5"/><rect x="17" y="47" width="1" height="1" fill="#f5cbf5"/><rect x="18" y="45" width="1" height="1" fill="#cdf3cd"/><rect x="22" y="45" width="1" height="1" fill="#f5cbf5"/><rect x="26" y="45" width="1" height="1" fill="#cdf3cd"/><rect x="27" y="46" width="1" height="1" fill="#f5cbf5"/><rect x="32" y="45" width="1" height="1" fill="#f5cbf5"/><rect x="33" y="45" width="1" height="1" fill="#cdf3cd"/><rect x="35" y="45" width="1" height="1" fill="#f5cbf5"/><rect x="38" y="47" width="1" height="1" fill="#cdf3cd"/><rect x="41" y="45" width="1" height="1" fill="#cdf3cd"/><rect x="43" y="45" width="1" height="1" fill="#cdf3cd"/><rect x="45" y="46" width="1" height="1" fill="#cdf3cd"/></pattern></defs>
<rect width="520" height="393" fill="#fff"/>
<rect x="43" y="13" width="200" height="128" fill="url(#pa)"/>
<rect x="43" y="13" width="1" height="1" fill="#f3c6f3"/>
<rect x="46" y="13" width="1" height="1" fill="#c9f0c9"/>
<rect x="49" y="13" width="1" height="1" fill="#f3c6f3"/>
<rect x="52" y="13" width="1" height="1" fill="#c9f0c9"/>
<rect x="55" y="13" width="1" height="1" fill="#f3c6f3"/>
<rect x="58" y="13" width="1" height="1" fill="#c9f0c9"/>
<rect x="61" y="13" width="1" height="1" fill="#f3c6f3"/>
<rect x="64" y="13" width="1" height="1" fill="#c9f0c9"/>
<rect x="67" y="13" width="1" height="1" fill="#f3c6f3"/>
<rect x="70" y="13" width="1" height="1" fill="#c9f0c9"/>
<rect x="73" y="13" width="1" height="1" fill="#f3c6f3"/>
<rect x="76" y="13" width="1" height="1" fill="#c9f0c9"/>
<rect x="79" y="13" width="1" height="1" fill="#f3c6f3"/>
<rect x="82" y="13" width="1" height="1" fill="#c9f0c9"/>
<rect x="85" y="13" width="1" height="1" fill="#f3c6f3"/>
<rect x="88" y="13" width="1" height="1" fill="#c9f0c9"/>
<rect x="91" y="13" width="1" height="1" fill="#f3c6f3"/>
<rect x="94" y="13" width="1" height="1" fill="#c9f0c9"/>
<rect x="97" y="13" width="1" height="1" fill="#f3c6f3"/>
<rect x="100" y="13" width="1" height="1" fill="#c9f0c9"/>
<rect x="103" y="13" width="1" height="1" fill="#f3c6f3"/>
<rect x="106" y="13" width="1" height="1" fill="#c9f0c9"/>
<rect x="109" y="13" width="1" height="1" fill="#f3c6f3"/>
<rect x="112" y="13" width="1" height="1" fill="#c9f0c9"/>
<rect x="115" y="13" width="1" height="1" fill="#f3c6f3"/>
<rect x="118" y="13" width="1" height="1" fill="#c9f0c9"/>
<rect x="121" y="13" width="1" height="1" fill="#f3c6f3"/>
<rect x="124" y="13" width="1" height="1" fill="#c9f0c9"/>
<rect x="127" y="13" width="1" height="1" fill="#f3c6f3"/>
<rect x="130" y="13" width="1" height="1" fill="#c9f0c9"/>
<rect x="133" y="13" width="1" height="1" fill="#f3c6f3"/>
<rect x="136" y="13" width="1" height="1" fill="#c9f0c9"/>
<rect x="139" y="13" width="1" height="1" fill="#f3c6f3"/>
<rect x="142" y="13" width="1" height="1" fill="#c9f0c9"/>
<rect x="145" y="13" width="1" height="1" fill="#f3c6f3"/>
<rect x="148" y="13" width="1" height="1" fill="#c9f0c9"/>
<rect x="151" y="13" width="1" height="1" fill="#f3c6f3"/>
<rect x="154" y="13" width="1" height="1" fill="#c9f0c9"/>
<rect x="157" y="13" width="1" height="1" fill="#f3c6f3"/>
<rect x="160" y="13" width="1" height="1" fill="#c9f0c9"/>
<rect x="163" y="13" width="1" height="1" fill="#f3c6f3"/>
<rect x="166" y="13" width="1" height="1" fill="#c9f0c9"/>
<rect x="169" y="13" width="1" height="1" fill="#f3c6f3"/>
<rect x="172" y="13" width="1" height="1" fill="#c9f0c9"/>
<rect x="175" y="13" width="1" height="1" fill="#f3c6f3"/>
<rect x="178" y="13" width="1" height="1" fill="#c9f0c9"/>
<rect x="181" y="13" width="1" height="1" fill="#f3c6f3"/>
<rect x="184" y="13" width="1" height="1" fill="#c9f0c9"/>
<rect x="187" y="13" width="1" height="1" fill="#f3c6f3"/>
<rect x="190" y="13" width="1" height="1" fill="#c9f0c9"/>
<rect x="193" y="13" width="1" height="1" fill="#f3c6f3"/>
<rect x="196" y="13" width="1" height="1" fill="#c9f0c9"/>
<rect x="199" y="13" width="1" height="1" fill="#f3c6f3"/>
<rect x="202" y="13" width="1" height="1" fill="#c9f0c9"/>
<rect x="205" y="13" width="1" height="1" fill="#f3c6f3"/>
<rect x="208" y="13" width="1" height="1" fill="#c9f0c9"/>
<rect x="211" y="13" width="1" height="1" fill="#f3c6f3"/>
<rect x="214" y="13" width="1" height="1" fill="#c9f0c9"/>
<rect x="217" y="13" width="1" height="1" fill="#f3c6f3"/>
<rect x="220" y="13" width="1" height="1" fill="#c9f0c9"/>
<rect x="223" y="13" width="1" height="1" fill="#f3c6f3"/>
<rect x="226" y="13" width="1" height="1" fill="#c9f0c9"/>
<rect x="229" y="13" width="1" height="1" fill="#f3c6f3"/>
<rect x="232" y="13" width="1" height="1" fill="#c9f0c9"/>
<rect x="235" y="13" width="1" height="1" fill="#f3c6f3"/>
<rect x="238" y="13" width="1" height="1" fill="#c9f0c9"/>
<rect x="241" y="13" width="1" height="1" fill="#f3c6f3"/>
<rect x="242" y="15" width="1" height="1" fill="#f3c6f3"/>
<rect x="242" y="18" width="1" height="1" fill="#c9f0c9"/>
<rect x="242" y="21" width="1" height="1" fill="#f3c6f3"/>
<rect x="242" y="24" width="1" height="1" fill="#c9f0c9"/>
<rect x="242" y="27" width="1" height="1" fill="#f3c6f3"/>
<rect x="242" y="30" width="1" height="1" fill="#c9f0c9"/>
<rect x="242" y="33" width="1" height="1" fill="#f3c6f3"/>
<rect x="242" y="36" width="1" height="1" fill="#c9f0c9"/>
<rect x="242" y="39" width="1" height="1" fill="#f3c6f3"/>
<rect x="242" y="42" width="1" height="1" fill="#c9f0c9"/>
<rect x="242" y="45" width="1" height="1" fill="#f3c6f3"/>
<rect x="242" y="48" width="1" height="1" fill="#c9f0c9"/>
<rect x="242" y="51" width="1" height="1" fill="#f3c6f3"/>
<rect x="242" y="54" width="1" height="1" fill="#c9f0c9"/>
<rect x="242" y="57" width="1" height="1" fill="#f3c6f3"/>
<rect x="242" y="60" width="1" height="1" fill="#c9f0c9"/>
<rect x="242" y="63" width="1" height="1" fill="#f3c6f3"/>
<rect x="242" y="66" width="1" height="1" fill="#c9f0c9"/>
<rect x="242" y="69" width="1" height="1" fill="#f3c6f3"/>
<rect x="242" y="72" width="1" height="1" fill="#c9f0c9"/>
<rect x="242" y="75" width="1" height="1" fill="#f3c6f3"/>
<rect x="242" y="78" width="1" height="1" fill="#c9f0c9"/>
<rect x="242" y="81" width="1" height="1" fill="#f3c6f3"/>
<rect x="242" y="84" width="1" height="1" fill="#c9f0c9"/>
<rect x="242" y="87" width="1" height="1" fill="#f3c6f3"/>
<rect x="242" y="90" width="1" height="1" fill="#c9f0c9"/>
<rect x="242" y="93" width="1" height="1" fill="#f3c6f3"/>
<rect x="242" y="96" width="1" height="1" fill="#c9f0c9"/>
<rect x="242" y="99" width="1" height="1" fill="#f3c6f3"/>
<rect x="242" y="102" width="1" height="1" fill="#c9f0c9"/>
<rect x="242" y="105" width="1" height="1" fill="#f3c6f3"/>
<rect x="242" y="108" width="1" height="1" fill="#c9f0c9"/>
<rect x="242" y="111" width="1" height="1" fill="#f3c6f3"/>
<rect x="242" y="114" width="1" height="1" fill="#c9f0c9"/>
<rect x="242" y="117" width="1" height="1" fill="#f3c6f3"/>
<rect x="242" y="120" width="1" height="1" fill="#c9f0c9"/>
<rect x="242" y="123" width="1" height="1" fill="#f3c6f3"/>
<rect x="242" y="126" width="1" height="1" fill="#c9f0c9"/>
<rect x="242" y="129" width="1" height="1" fill="#f3c6f3"/>
<rect x="242" y="132" width="1" height="1" fill="#c9f0c9"/>
<rect x="242" y="135" width="1" height="1" fill="#f3c6f3"/>
<rect x="242" y="138" width="1" height="1" fill="#c9f0c9"/>
<line x1="39.5" y1="10.0" x2="39.5" y2="146.7" stroke="#0a0a0a" stroke-width="1.3"/>
<line x1="39.5" y1="144.5" x2="242.0" y2="144.5" stroke="#0a0a0a" stroke-width="1.3"/>
<line x1="51.66" y1="144.5" x2="51.66" y2="145.9" stroke="#222" stroke-width="0.9"/>
<line x1="58.78" y1="144.5" x2="58.78" y2="145.9" stroke="#222" stroke-width="0.9"/>
<line x1="63.82" y1="144.5" x2="63.82" y2="145.9" stroke="#222" stroke-width="0.9"/>
<line x1="67.74" y1="144.5" x2="67.74" y2="145.9" stroke="#222" stroke-width="0.9"/>
<line x1="70.94" y1="144.5" x2="70.94" y2="145.9" stroke="#222" stroke-width="0.9"/>
<line x1="73.64" y1="144.5" x2="73.64" y2="145.9" stroke="#222" stroke-width="0.9"/>
<line x1="75.98" y1="144.5" x2="75.98" y2="145.9" stroke="#222" stroke-width="0.9"/>
<line x1="78.05" y1="144.5" x2="78.05" y2="145.9" stroke="#222" stroke-width="0.9"/>
<line x1="92.06" y1="144.5" x2="92.06" y2="145.9" stroke="#222" stroke-width="0.9"/>
<line x1="99.18" y1="144.5" x2="99.18" y2="145.9" stroke="#222" stroke-width="0.9"/>
<line x1="104.22" y1="144.5" x2="104.22" y2="145.9" stroke="#222" stroke-width="0.9"/>
<line x1="108.14" y1="144.5" x2="108.14" y2="145.9" stroke="#222" stroke-width="0.9"/>
<line x1="111.34" y1="144.5" x2="111.34" y2="145.9" stroke="#222" stroke-width="0.9"/>
<line x1="114.04" y1="144.5" x2="114.04" y2="145.9" stroke="#222" stroke-width="0.9"/>
<line x1="116.38" y1="144.5" x2="116.38" y2="145.9" stroke="#222" stroke-width="0.9"/>
<line x1="118.45" y1="144.5" x2="118.45" y2="145.9" stroke="#222" stroke-width="0.9"/>
<line x1="132.46" y1="144.5" x2="132.46" y2="145.9" stroke="#222" stroke-width="0.9"/>
<line x1="139.58" y1="144.5" x2="139.58" y2="145.9" stroke="#222" stroke-width="0.9"/>
<line x1="144.62" y1="144.5" x2="144.62" y2="145.9" stroke="#222" stroke-width="0.9"/>
<line x1="148.54" y1="144.5" x2="148.54" y2="145.9" stroke="#222" stroke-width="0.9"/>
<line x1="151.74" y1="144.5" x2="151.74" y2="145.9" stroke="#222" stroke-width="0.9"/>
<line x1="154.44" y1="144.5" x2="154.44" y2="145.9" stroke="#222" stroke-width="0.9"/>
<line x1="156.78" y1="144.5" x2="156.78" y2="145.9" stroke="#222" stroke-width="0.9"/>
<line x1="158.85" y1="144.5" x2="158.85" y2="145.9" stroke="#222" stroke-width="0.9"/>
<line x1="172.86" y1="144.5" x2="172.86" y2="145.9" stroke="#222" stroke-width="0.9"/>
<line x1="179.98" y1="144.5" x2="179.98" y2="145.9" stroke="#222" stroke-width="0.9"/>
<line x1="185.02" y1="144.5" x2="185.02" y2="145.9" stroke="#222" stroke-width="0.9"/>
<line x1="188.94" y1="144.5" x2="188.94" y2="145.9" stroke="#222" stroke-width="0.9"/>
<line x1="192.14" y1="144.5" x2="192.14" y2="145.9" stroke="#222" stroke-width="0.9"/>
<line x1="194.84" y1="144.5" x2="194.84" y2="145.9" stroke="#222" stroke-width="0.9"/>
<line x1="197.18" y1="144.5" x2="197.18" y2="145.9" stroke="#222" stroke-width="0.9"/>
<line x1="199.25" y1="144.5" x2="199.25" y2="145.9" stroke="#222" stroke-width="0.9"/>
<line x1="213.26" y1="144.5" x2="213.26" y2="145.9" stroke="#222" stroke-width="0.9"/>
<line x1="220.38" y1="144.5" x2="220.38" y2="145.9" stroke="#222" stroke-width="0.9"/>
<line x1="225.42" y1="144.5" x2="225.42" y2="145.9" stroke="#222" stroke-width="0.9"/>
<line x1="229.34" y1="144.5" x2="229.34" y2="145.9" stroke="#222" stroke-width="0.9"/>
<line x1="232.54" y1="144.5" x2="232.54" y2="145.9" stroke="#222" stroke-width="0.9"/>
<line x1="235.24" y1="144.5" x2="235.24" y2="145.9" stroke="#222" stroke-width="0.9"/>
<line x1="237.58" y1="144.5" x2="237.58" y2="145.9" stroke="#222" stroke-width="0.9"/>
<line x1="239.65" y1="144.5" x2="239.65" y2="145.9" stroke="#222" stroke-width="0.9"/>
<line x1="39.50" y1="144.5" x2="39.50" y2="147.1" stroke="#222" stroke-width="1"/>
<line x1="79.90" y1="144.5" x2="79.90" y2="147.1" stroke="#222" stroke-width="1"/>
<line x1="120.30" y1="144.5" x2="120.30" y2="147.1" stroke="#222" stroke-width="1"/>
<line x1="160.70" y1="144.5" x2="160.70" y2="147.1" stroke="#222" stroke-width="1"/>
<line x1="201.10" y1="144.5" x2="201.10" y2="147.1" stroke="#222" stroke-width="1"/>
<line x1="241.50" y1="144.5" x2="241.50" y2="147.1" stroke="#222" stroke-width="1"/>
<text x="39.50" y="156.3" font-size="8.2" text-anchor="middle">10<tspan font-size="5.6" dy="-2.6">6</tspan></text>
<text x="79.90" y="156.3" font-size="8.2" text-anchor="middle">10<tspan font-size="5.6" dy="-2.6">7</tspan></text>
<text x="120.30" y="156.3" font-size="8.2" text-anchor="middle">10<tspan font-size="5.6" dy="-2.6">8</tspan></text>
<text x="160.70" y="156.3" font-size="8.2" text-anchor="middle">10<tspan font-size="5.6" dy="-2.6">9</tspan></text>
<text x="201.10" y="156.3" font-size="8.2" text-anchor="middle">10<tspan font-size="5.6" dy="-2.6">10</tspan></text>
<text x="241.50" y="156.3" font-size="8.2" text-anchor="middle">10<tspan font-size="5.6" dy="-2.6">11</tspan></text>
<text x="35.9" y="147.10" font-size="8.2" text-anchor="end" font-weight="normal">0.02</text>
<text x="35.9" y="120.20" font-size="8.2" text-anchor="end" font-weight="normal">0.2</text>
<text x="35.9" y="93.30" font-size="8.2" text-anchor="end" font-weight="normal">2</text>
<text x="35.9" y="66.40" font-size="8.2" text-anchor="end" font-weight="normal">20</text>
<text x="35.9" y="39.50" font-size="8.2" text-anchor="end" font-weight="normal">200</text>
<text x="35.9" y="12.60" font-size="8.2" text-anchor="end" font-weight="normal">2,000</text>
<text x="114.2" y="168.6" font-size="8.2" text-anchor="start" font-weight="normal" textLength="54.8" lengthAdjust="spacingAndGlyphs">Cx neurons (n)</text>
<text transform="translate(12.0,76.7) rotate(-90)" x="0" y="0" font-size="8.2" text-anchor="middle" textLength="41.0" lengthAdjust="spacingAndGlyphs">Cx mass (g)</text>
<text x="4.6" y="168.6" font-size="9.0" text-anchor="start" font-weight="bold">a</text>
<circle cx="182.3" cy="99.3" r="2.9" fill="#000"/>
<polygon points="182.30,108.05 179.05,114.15 185.55,114.15" fill="#000"/>
<polygon points="182.30,120.30 183.40,121.80 184.90,122.90 183.40,124.00 182.30,125.50 181.20,124.00 179.70,122.90 181.20,121.80" fill="#000"/>
<circle cx="182.60000000000002" cy="134.3" r="2.45" fill="none" stroke="#111" stroke-width="1.0"/>
<text x="190.60000000000002" y="102.30" font-size="8.2" text-anchor="start" font-weight="normal" textLength="21.4" lengthAdjust="spacingAndGlyphs">Glires</text>
<text x="190.60000000000002" y="114.00" font-size="8.2" text-anchor="start" font-weight="normal" textLength="28.8" lengthAdjust="spacingAndGlyphs">Primata</text>
<text x="190.60000000000002" y="125.70" font-size="8.2" text-anchor="start" font-weight="normal" textLength="41.7" lengthAdjust="spacingAndGlyphs">Scandentia</text>
<text x="190.60000000000002" y="137.40" font-size="8.2" text-anchor="start" font-weight="normal" textLength="47.6" lengthAdjust="spacingAndGlyphs">Eulipotyphla</text>
<polygon points="208.80,12.05 205.55,18.15 212.05,18.15" fill="#000"/>
<polygon points="178.10,39.05 174.85,45.15 181.35,45.15" fill="#000"/>
<polygon points="168.80,45.60 165.55,51.70 172.05,51.70" fill="#000"/>
<polygon points="168.50,49.65 165.25,55.75 171.75,55.75" fill="#000"/>
<polygon points="161.90,52.55 158.65,58.65 165.15,58.65" fill="#000"/>
<polygon points="155.50,53.10 152.25,59.20 158.75,59.20" fill="#000"/>
<polygon points="164.80,59.45 161.55,65.55 168.05,65.55" fill="#000"/>
<polygon points="141.50,65.00 138.25,71.10 144.75,71.10" fill="#000"/>
<polygon points="145.00,67.15 141.75,73.25 148.25,73.25" fill="#000"/>
<polygon points="134.30,73.60 131.05,79.70 137.55,79.70" fill="#000"/>
<polygon points="135.40,74.95 132.15,81.05 138.65,81.05" fill="#000"/>
<polygon points="93.50,95.95 90.25,102.05 96.75,102.05" fill="#000"/>
<polygon points="97.30,96.85 94.05,102.95 100.55,102.95" fill="#000"/>
<circle cx="122.2" cy="72.9" r="2.9" fill="#000"/>
<circle cx="139.5" cy="53.5" r="2.9" fill="#000"/>
<circle cx="114.5" cy="81.2" r="2.9" fill="#000"/>
<circle cx="115.8" cy="87.1" r="2.9" fill="#000"/>
<circle cx="109.4" cy="87.6" r="2.9" fill="#000"/>
<circle cx="105.1" cy="91.2" r="2.9" fill="#000"/>
<circle cx="99.9" cy="101.7" r="2.9" fill="#000"/>
<circle cx="88.7" cy="108.4" r="2.9" fill="#000"/>
<circle cx="84.6" cy="119.1" r="2.9" fill="#000"/>
<polygon points="110.30,91.00 111.40,92.50 112.90,93.60 111.40,94.70 110.30,96.20 109.20,94.70 107.70,93.60 109.20,92.50" fill="#000"/>
<circle cx="98.2" cy="107.2" r="2.45" fill="none" stroke="#111" stroke-width="1.0"/>
<circle cx="87.7" cy="117.5" r="2.45" fill="none" stroke="#111" stroke-width="1.0"/>
<circle cx="79.6" cy="127.7" r="2.45" fill="none" stroke="#111" stroke-width="1.0"/>
<rect x="307.5" y="14" width="198.0" height="126" fill="url(#pb)"/>
<rect x="308" y="14" width="1" height="1" fill="#f3c6f3"/>
<rect x="311" y="14" width="1" height="1" fill="#c9f0c9"/>
<rect x="314" y="14" width="1" height="1" fill="#f3c6f3"/>
<rect x="317" y="14" width="1" height="1" fill="#c9f0c9"/>
<rect x="320" y="14" width="1" height="1" fill="#f3c6f3"/>
<rect x="323" y="14" width="1" height="1" fill="#c9f0c9"/>
<rect x="326" y="14" width="1" height="1" fill="#f3c6f3"/>
<rect x="329" y="14" width="1" height="1" fill="#c9f0c9"/>
<rect x="332" y="14" width="1" height="1" fill="#f3c6f3"/>
<rect x="335" y="14" width="1" height="1" fill="#c9f0c9"/>
<rect x="338" y="14" width="1" height="1" fill="#f3c6f3"/>
<rect x="341" y="14" width="1" height="1" fill="#c9f0c9"/>
<rect x="344" y="14" width="1" height="1" fill="#f3c6f3"/>
<rect x="347" y="14" width="1" height="1" fill="#c9f0c9"/>
<rect x="350" y="14" width="1" height="1" fill="#f3c6f3"/>
<rect x="353" y="14" width="1" height="1" fill="#c9f0c9"/>
<rect x="356" y="14" width="1" height="1" fill="#f3c6f3"/>
<rect x="359" y="14" width="1" height="1" fill="#c9f0c9"/>
<rect x="362" y="14" width="1" height="1" fill="#f3c6f3"/>
<rect x="365" y="14" width="1" height="1" fill="#c9f0c9"/>
<rect x="368" y="14" width="1" height="1" fill="#f3c6f3"/>
<rect x="371" y="14" width="1" height="1" fill="#c9f0c9"/>
<rect x="374" y="14" width="1" height="1" fill="#f3c6f3"/>
<rect x="377" y="14" width="1" height="1" fill="#c9f0c9"/>
<rect x="380" y="14" width="1" height="1" fill="#f3c6f3"/>
<rect x="383" y="14" width="1" height="1" fill="#c9f0c9"/>
<rect x="386" y="14" width="1" height="1" fill="#f3c6f3"/>
<rect x="389" y="14" width="1" height="1" fill="#c9f0c9"/>
<rect x="392" y="14" width="1" height="1" fill="#f3c6f3"/>
<rect x="395" y="14" width="1" height="1" fill="#c9f0c9"/>
<rect x="398" y="14" width="1" height="1" fill="#f3c6f3"/>
<rect x="401" y="14" width="1" height="1" fill="#c9f0c9"/>
<rect x="404" y="14" width="1" height="1" fill="#f3c6f3"/>
<rect x="407" y="14" width="1" height="1" fill="#c9f0c9"/>
<rect x="410" y="14" width="1" height="1" fill="#f3c6f3"/>
<rect x="413" y="14" width="1" height="1" fill="#c9f0c9"/>
<rect x="416" y="14" width="1" height="1" fill="#f3c6f3"/>
<rect x="419" y="14" width="1" height="1" fill="#c9f0c9"/>
<rect x="422" y="14" width="1" height="1" fill="#f3c6f3"/>
<rect x="425" y="14" width="1" height="1" fill="#c9f0c9"/>
<rect x="428" y="14" width="1" height="1" fill="#f3c6f3"/>
<rect x="431" y="14" width="1" height="1" fill="#c9f0c9"/>
<rect x="434" y="14" width="1" height="1" fill="#f3c6f3"/>
<rect x="437" y="14" width="1" height="1" fill="#c9f0c9"/>
<rect x="440" y="14" width="1" height="1" fill="#f3c6f3"/>
<rect x="443" y="14" width="1" height="1" fill="#c9f0c9"/>
<rect x="446" y="14" width="1" height="1" fill="#f3c6f3"/>
<rect x="449" y="14" width="1" height="1" fill="#c9f0c9"/>
<rect x="452" y="14" width="1" height="1" fill="#f3c6f3"/>
<rect x="455" y="14" width="1" height="1" fill="#c9f0c9"/>
<rect x="458" y="14" width="1" height="1" fill="#f3c6f3"/>
<rect x="461" y="14" width="1" height="1" fill="#c9f0c9"/>
<rect x="464" y="14" width="1" height="1" fill="#f3c6f3"/>
<rect x="467" y="14" width="1" height="1" fill="#c9f0c9"/>
<rect x="470" y="14" width="1" height="1" fill="#f3c6f3"/>
<rect x="473" y="14" width="1" height="1" fill="#c9f0c9"/>
<rect x="476" y="14" width="1" height="1" fill="#f3c6f3"/>
<rect x="479" y="14" width="1" height="1" fill="#c9f0c9"/>
<rect x="482" y="14" width="1" height="1" fill="#f3c6f3"/>
<rect x="485" y="14" width="1" height="1" fill="#c9f0c9"/>
<rect x="488" y="14" width="1" height="1" fill="#f3c6f3"/>
<rect x="491" y="14" width="1" height="1" fill="#c9f0c9"/>
<rect x="494" y="14" width="1" height="1" fill="#f3c6f3"/>
<rect x="497" y="14" width="1" height="1" fill="#c9f0c9"/>
<rect x="500" y="14" width="1" height="1" fill="#f3c6f3"/>
<rect x="503" y="14" width="1" height="1" fill="#c9f0c9"/>
<rect x="504" y="16" width="1" height="1" fill="#f3c6f3"/>
<rect x="504" y="19" width="1" height="1" fill="#c9f0c9"/>
<rect x="504" y="22" width="1" height="1" fill="#f3c6f3"/>
<rect x="504" y="25" width="1" height="1" fill="#c9f0c9"/>
<rect x="504" y="28" width="1" height="1" fill="#f3c6f3"/>
<rect x="504" y="31" width="1" height="1" fill="#c9f0c9"/>
<rect x="504" y="34" width="1" height="1" fill="#f3c6f3"/>
<rect x="504" y="37" width="1" height="1" fill="#c9f0c9"/>
<rect x="504" y="40" width="1" height="1" fill="#f3c6f3"/>
<rect x="504" y="43" width="1" height="1" fill="#c9f0c9"/>
<rect x="504" y="46" width="1" height="1" fill="#f3c6f3"/>
<rect x="504" y="49" width="1" height="1" fill="#c9f0c9"/>
<rect x="504" y="52" width="1" height="1" fill="#f3c6f3"/>
<rect x="504" y="55" width="1" height="1" fill="#c9f0c9"/>
<rect x="504" y="58" width="1" height="1" fill="#f3c6f3"/>
<rect x="504" y="61" width="1" height="1" fill="#c9f0c9"/>
<rect x="504" y="64" width="1" height="1" fill="#f3c6f3"/>
<rect x="504" y="67" width="1" height="1" fill="#c9f0c9"/>
<rect x="504" y="70" width="1" height="1" fill="#f3c6f3"/>
<rect x="504" y="73" width="1" height="1" fill="#c9f0c9"/>
<rect x="504" y="76" width="1" height="1" fill="#f3c6f3"/>
<rect x="504" y="79" width="1" height="1" fill="#c9f0c9"/>
<rect x="504" y="82" width="1" height="1" fill="#f3c6f3"/>
<rect x="504" y="85" width="1" height="1" fill="#c9f0c9"/>
<rect x="504" y="88" width="1" height="1" fill="#f3c6f3"/>
<rect x="504" y="91" width="1" height="1" fill="#c9f0c9"/>
<rect x="504" y="94" width="1" height="1" fill="#f3c6f3"/>
<rect x="504" y="97" width="1" height="1" fill="#c9f0c9"/>
<rect x="504" y="100" width="1" height="1" fill="#f3c6f3"/>
<rect x="504" y="103" width="1" height="1" fill="#c9f0c9"/>
<rect x="504" y="106" width="1" height="1" fill="#f3c6f3"/>
<rect x="504" y="109" width="1" height="1" fill="#c9f0c9"/>
<rect x="504" y="112" width="1" height="1" fill="#f3c6f3"/>
<rect x="504" y="115" width="1" height="1" fill="#c9f0c9"/>
<rect x="504" y="118" width="1" height="1" fill="#f3c6f3"/>
<rect x="504" y="121" width="1" height="1" fill="#c9f0c9"/>
<rect x="504" y="124" width="1" height="1" fill="#f3c6f3"/>
<rect x="504" y="127" width="1" height="1" fill="#c9f0c9"/>
<rect x="504" y="130" width="1" height="1" fill="#f3c6f3"/>
<rect x="504" y="133" width="1" height="1" fill="#c9f0c9"/>
<rect x="504" y="136" width="1" height="1" fill="#f3c6f3"/>
<rect x="504" y="139" width="1" height="1" fill="#c9f0c9"/>
<line x1="302.6" y1="9.4" x2="302.6" y2="146.1" stroke="#0a0a0a" stroke-width="1.3"/>
<line x1="302.6" y1="143.9" x2="505.5" y2="143.9" stroke="#0a0a0a" stroke-width="1.3"/>
<line x1="314.79" y1="143.9" x2="314.79" y2="145.3" stroke="#222" stroke-width="0.9"/>
<line x1="321.91" y1="143.9" x2="321.91" y2="145.3" stroke="#222" stroke-width="0.9"/>
<line x1="326.97" y1="143.9" x2="326.97" y2="145.3" stroke="#222" stroke-width="0.9"/>
<line x1="330.89" y1="143.9" x2="330.89" y2="145.3" stroke="#222" stroke-width="0.9"/>
<line x1="334.10" y1="143.9" x2="334.10" y2="145.3" stroke="#222" stroke-width="0.9"/>
<line x1="336.81" y1="143.9" x2="336.81" y2="145.3" stroke="#222" stroke-width="0.9"/>
<line x1="339.16" y1="143.9" x2="339.16" y2="145.3" stroke="#222" stroke-width="0.9"/>
<line x1="341.23" y1="143.9" x2="341.23" y2="145.3" stroke="#222" stroke-width="0.9"/>
<line x1="355.27" y1="143.9" x2="355.27" y2="145.3" stroke="#222" stroke-width="0.9"/>
<line x1="362.39" y1="143.9" x2="362.39" y2="145.3" stroke="#222" stroke-width="0.9"/>
<line x1="367.45" y1="143.9" x2="367.45" y2="145.3" stroke="#222" stroke-width="0.9"/>
<line x1="371.37" y1="143.9" x2="371.37" y2="145.3" stroke="#222" stroke-width="0.9"/>
<line x1="374.58" y1="143.9" x2="374.58" y2="145.3" stroke="#222" stroke-width="0.9"/>
<line x1="377.29" y1="143.9" x2="377.29" y2="145.3" stroke="#222" stroke-width="0.9"/>
<line x1="379.64" y1="143.9" x2="379.64" y2="145.3" stroke="#222" stroke-width="0.9"/>
<line x1="381.71" y1="143.9" x2="381.71" y2="145.3" stroke="#222" stroke-width="0.9"/>
<line x1="395.75" y1="143.9" x2="395.75" y2="145.3" stroke="#222" stroke-width="0.9"/>
<line x1="402.87" y1="143.9" x2="402.87" y2="145.3" stroke="#222" stroke-width="0.9"/>
<line x1="407.93" y1="143.9" x2="407.93" y2="145.3" stroke="#222" stroke-width="0.9"/>
<line x1="411.85" y1="143.9" x2="411.85" y2="145.3" stroke="#222" stroke-width="0.9"/>
<line x1="415.06" y1="143.9" x2="415.06" y2="145.3" stroke="#222" stroke-width="0.9"/>
<line x1="417.77" y1="143.9" x2="417.77" y2="145.3" stroke="#222" stroke-width="0.9"/>
<line x1="420.12" y1="143.9" x2="420.12" y2="145.3" stroke="#222" stroke-width="0.9"/>
<line x1="422.19" y1="143.9" x2="422.19" y2="145.3" stroke="#222" stroke-width="0.9"/>
<line x1="436.23" y1="143.9" x2="436.23" y2="145.3" stroke="#222" stroke-width="0.9"/>
<line x1="443.35" y1="143.9" x2="443.35" y2="145.3" stroke="#222" stroke-width="0.9"/>
<line x1="448.41" y1="143.9" x2="448.41" y2="145.3" stroke="#222" stroke-width="0.9"/>
<line x1="452.33" y1="143.9" x2="452.33" y2="145.3" stroke="#222" stroke-width="0.9"/>
<line x1="455.54" y1="143.9" x2="455.54" y2="145.3" stroke="#222" stroke-width="0.9"/>
<line x1="458.25" y1="143.9" x2="458.25" y2="145.3" stroke="#222" stroke-width="0.9"/>
<line x1="460.60" y1="143.9" x2="460.60" y2="145.3" stroke="#222" stroke-width="0.9"/>
<line x1="462.67" y1="143.9" x2="462.67" y2="145.3" stroke="#222" stroke-width="0.9"/>
<line x1="476.71" y1="143.9" x2="476.71" y2="145.3" stroke="#222" stroke-width="0.9"/>
<line x1="483.83" y1="143.9" x2="483.83" y2="145.3" stroke="#222" stroke-width="0.9"/>
<line x1="488.89" y1="143.9" x2="488.89" y2="145.3" stroke="#222" stroke-width="0.9"/>
<line x1="492.81" y1="143.9" x2="492.81" y2="145.3" stroke="#222" stroke-width="0.9"/>
<line x1="496.02" y1="143.9" x2="496.02" y2="145.3" stroke="#222" stroke-width="0.9"/>
<line x1="498.73" y1="143.9" x2="498.73" y2="145.3" stroke="#222" stroke-width="0.9"/>
<line x1="501.08" y1="143.9" x2="501.08" y2="145.3" stroke="#222" stroke-width="0.9"/>
<line x1="503.15" y1="143.9" x2="503.15" y2="145.3" stroke="#222" stroke-width="0.9"/>
<line x1="302.60" y1="143.9" x2="302.60" y2="146.5" stroke="#222" stroke-width="1"/>
<line x1="343.08" y1="143.9" x2="343.08" y2="146.5" stroke="#222" stroke-width="1"/>
<line x1="383.56" y1="143.9" x2="383.56" y2="146.5" stroke="#222" stroke-width="1"/>
<line x1="424.04" y1="143.9" x2="424.04" y2="146.5" stroke="#222" stroke-width="1"/>
<line x1="464.52" y1="143.9" x2="464.52" y2="146.5" stroke="#222" stroke-width="1"/>
<line x1="505.00" y1="143.9" x2="505.00" y2="146.5" stroke="#222" stroke-width="1"/>
<text x="302.60" y="155.70000000000002" font-size="8.2" text-anchor="middle">10<tspan font-size="5.6" dy="-2.6">6</tspan></text>
<text x="343.08" y="155.70000000000002" font-size="8.2" text-anchor="middle">10<tspan font-size="5.6" dy="-2.6">7</tspan></text>
<text x="383.56" y="155.70000000000002" font-size="8.2" text-anchor="middle">10<tspan font-size="5.6" dy="-2.6">8</tspan></text>
<text x="424.04" y="155.70000000000002" font-size="8.2" text-anchor="middle">10<tspan font-size="5.6" dy="-2.6">9</tspan></text>
<text x="464.52" y="155.70000000000002" font-size="8.2" text-anchor="middle">10<tspan font-size="5.6" dy="-2.6">10</tspan></text>
<text x="505.00" y="155.70000000000002" font-size="8.2" text-anchor="middle">10<tspan font-size="5.6" dy="-2.6">11</tspan></text>
<text x="299.0" y="146.50" font-size="8.2" text-anchor="end" font-weight="normal">0.02</text>
<text x="299.0" y="119.60" font-size="8.2" text-anchor="end" font-weight="normal">0.2</text>
<text x="299.0" y="92.70" font-size="8.2" text-anchor="end" font-weight="normal">2</text>
<text x="299.0" y="65.80" font-size="8.2" text-anchor="end" font-weight="normal">20</text>
<text x="299.0" y="38.90" font-size="8.2" text-anchor="end" font-weight="normal">200</text>
<text x="299.0" y="12.00" font-size="8.2" text-anchor="end" font-weight="normal">2,000</text>
<text x="377.3" y="168.1" font-size="8.2" text-anchor="start" font-weight="normal" textLength="55.4" lengthAdjust="spacingAndGlyphs">Cb neurons (n)</text>
<text transform="translate(275.3,76.6) rotate(-90)" x="0" y="0" font-size="8.2" text-anchor="middle" textLength="43.0" lengthAdjust="spacingAndGlyphs">Cb mass (g)</text>
<text x="267.7" y="167.5" font-size="9.0" text-anchor="start" font-weight="bold">b</text>
<circle cx="444.2" cy="98.8" r="2.9" fill="#000"/>
<polygon points="444.20,107.55 440.95,113.65 447.45,113.65" fill="#000"/>
<polygon points="444.20,119.80 445.30,121.30 446.80,122.40 445.30,123.50 444.20,125.00 443.10,123.50 441.60,122.40 443.10,121.30" fill="#000"/>
<circle cx="444.5" cy="133.8" r="2.45" fill="none" stroke="#111" stroke-width="1.0"/>
<text x="452.5" y="101.80" font-size="8.2" text-anchor="start" font-weight="normal" textLength="21.4" lengthAdjust="spacingAndGlyphs">Glires</text>
<text x="452.5" y="113.50" font-size="8.2" text-anchor="start" font-weight="normal" textLength="28.8" lengthAdjust="spacingAndGlyphs">Primata</text>
<text x="452.5" y="125.20" font-size="8.2" text-anchor="start" font-weight="normal" textLength="41.7" lengthAdjust="spacingAndGlyphs">Scandentia</text>
<text x="452.5" y="136.90" font-size="8.2" text-anchor="start" font-weight="normal" textLength="47.6" lengthAdjust="spacingAndGlyphs">Eulipotyphla</text>
<polygon points="497.60,36.20 494.35,42.30 500.85,42.30" fill="#000"/>
<polygon points="459.20,64.05 455.95,70.15 462.45,70.15" fill="#000"/>
<polygon points="449.80,71.25 446.55,77.35 453.05,77.35" fill="#000"/>
<polygon points="435.80,74.65 432.55,80.75 439.05,80.75" fill="#000"/>
<polygon points="439.30,74.55 436.05,80.65 442.55,80.65" fill="#000"/>
<polygon points="433.60,77.55 430.35,83.65 436.85,83.65" fill="#000"/>
<polygon points="439.40,77.55 436.15,83.65 442.65,83.65" fill="#000"/>
<polygon points="424.20,88.75 420.95,94.85 427.45,94.85" fill="#000"/>
<polygon points="417.40,92.70 414.15,98.80 420.65,98.80" fill="#000"/>
<polygon points="405.50,98.35 402.25,104.45 408.75,104.45" fill="#000"/>
<polygon points="397.00,105.45 393.75,111.55 400.25,111.55" fill="#000"/>
<circle cx="426.1" cy="76.1" r="2.9" fill="#000"/>
<circle cx="421.0" cy="86.6" r="2.9" fill="#000"/>
<circle cx="407.9" cy="94.2" r="2.9" fill="#000"/>
<circle cx="405.3" cy="100.5" r="2.9" fill="#000"/>
<circle cx="392.5" cy="106.2" r="2.9" fill="#000"/>
<circle cx="391.2" cy="110.6" r="2.9" fill="#000"/>
<circle cx="388.8" cy="113.0" r="2.9" fill="#000"/>
<circle cx="375.0" cy="120.8" r="2.9" fill="#000"/>
<circle cx="368.7" cy="131.8" r="2.9" fill="#000"/>
<circle cx="384.6" cy="121.5" r="2.45" fill="none" stroke="#111" stroke-width="1.0"/>
<circle cx="383.2" cy="125.0" r="2.45" fill="none" stroke="#111" stroke-width="1.0"/>
<circle cx="391.9" cy="120.3" r="2.45" fill="none" stroke="#111" stroke-width="1.0"/>
<circle cx="364.2" cy="137.0" r="2.45" fill="none" stroke="#111" stroke-width="1.0"/>
<line x1="302.6" y1="227.0" x2="302.6" y2="364.0" stroke="#0a0a0a" stroke-width="1.3"/>
<line x1="302.6" y1="361.8" x2="505.5" y2="361.8" stroke="#0a0a0a" stroke-width="1.3"/>
<line x1="314.79" y1="361.8" x2="314.79" y2="363.2" stroke="#222" stroke-width="0.9"/>
<line x1="321.91" y1="361.8" x2="321.91" y2="363.2" stroke="#222" stroke-width="0.9"/>
<line x1="326.97" y1="361.8" x2="326.97" y2="363.2" stroke="#222" stroke-width="0.9"/>
<line x1="330.89" y1="361.8" x2="330.89" y2="363.2" stroke="#222" stroke-width="0.9"/>
<line x1="334.10" y1="361.8" x2="334.10" y2="363.2" stroke="#222" stroke-width="0.9"/>
<line x1="336.81" y1="361.8" x2="336.81" y2="363.2" stroke="#222" stroke-width="0.9"/>
<line x1="339.16" y1="361.8" x2="339.16" y2="363.2" stroke="#222" stroke-width="0.9"/>
<line x1="341.23" y1="361.8" x2="341.23" y2="363.2" stroke="#222" stroke-width="0.9"/>
<line x1="355.27" y1="361.8" x2="355.27" y2="363.2" stroke="#222" stroke-width="0.9"/>
<line x1="362.39" y1="361.8" x2="362.39" y2="363.2" stroke="#222" stroke-width="0.9"/>
<line x1="367.45" y1="361.8" x2="367.45" y2="363.2" stroke="#222" stroke-width="0.9"/>
<line x1="371.37" y1="361.8" x2="371.37" y2="363.2" stroke="#222" stroke-width="0.9"/>
<line x1="374.58" y1="361.8" x2="374.58" y2="363.2" stroke="#222" stroke-width="0.9"/>
<line x1="377.29" y1="361.8" x2="377.29" y2="363.2" stroke="#222" stroke-width="0.9"/>
<line x1="379.64" y1="361.8" x2="379.64" y2="363.2" stroke="#222" stroke-width="0.9"/>
<line x1="381.71" y1="361.8" x2="381.71" y2="363.2" stroke="#222" stroke-width="0.9"/>
<line x1="395.75" y1="361.8" x2="395.75" y2="363.2" stroke="#222" stroke-width="0.9"/>
<line x1="402.87" y1="361.8" x2="402.87" y2="363.2" stroke="#222" stroke-width="0.9"/>
<line x1="407.93" y1="361.8" x2="407.93" y2="363.2" stroke="#222" stroke-width="0.9"/>
<line x1="411.85" y1="361.8" x2="411.85" y2="363.2" stroke="#222" stroke-width="0.9"/>
<line x1="415.06" y1="361.8" x2="415.06" y2="363.2" stroke="#222" stroke-width="0.9"/>
<line x1="417.77" y1="361.8" x2="417.77" y2="363.2" stroke="#222" stroke-width="0.9"/>
<line x1="420.12" y1="361.8" x2="420.12" y2="363.2" stroke="#222" stroke-width="0.9"/>
<line x1="422.19" y1="361.8" x2="422.19" y2="363.2" stroke="#222" stroke-width="0.9"/>
<line x1="436.23" y1="361.8" x2="436.23" y2="363.2" stroke="#222" stroke-width="0.9"/>
<line x1="443.35" y1="361.8" x2="443.35" y2="363.2" stroke="#222" stroke-width="0.9"/>
<line x1="448.41" y1="361.8" x2="448.41" y2="363.2" stroke="#222" stroke-width="0.9"/>
<line x1="452.33" y1="361.8" x2="452.33" y2="363.2" stroke="#222" stroke-width="0.9"/>
<line x1="455.54" y1="361.8" x2="455.54" y2="363.2" stroke="#222" stroke-width="0.9"/>
<line x1="458.25" y1="361.8" x2="458.25" y2="363.2" stroke="#222" stroke-width="0.9"/>
<line x1="460.60" y1="361.8" x2="460.60" y2="363.2" stroke="#222" stroke-width="0.9"/>
<line x1="462.67" y1="361.8" x2="462.67" y2="363.2" stroke="#222" stroke-width="0.9"/>
<line x1="476.71" y1="361.8" x2="476.71" y2="363.2" stroke="#222" stroke-width="0.9"/>
<line x1="483.83" y1="361.8" x2="483.83" y2="363.2" stroke="#222" stroke-width="0.9"/>
<line x1="488.89" y1="361.8" x2="488.89" y2="363.2" stroke="#222" stroke-width="0.9"/>
<line x1="492.81" y1="361.8" x2="492.81" y2="363.2" stroke="#222" stroke-width="0.9"/>
<line x1="496.02" y1="361.8" x2="496.02" y2="363.2" stroke="#222" stroke-width="0.9"/>
<line x1="498.73" y1="361.8" x2="498.73" y2="363.2" stroke="#222" stroke-width="0.9"/>
<line x1="501.08" y1="361.8" x2="501.08" y2="363.2" stroke="#222" stroke-width="0.9"/>
<line x1="503.15" y1="361.8" x2="503.15" y2="363.2" stroke="#222" stroke-width="0.9"/>
<line x1="302.60" y1="361.8" x2="302.60" y2="364.40000000000003" stroke="#222" stroke-width="1"/>
<line x1="343.08" y1="361.8" x2="343.08" y2="364.40000000000003" stroke="#222" stroke-width="1"/>
<line x1="383.56" y1="361.8" x2="383.56" y2="364.40000000000003" stroke="#222" stroke-width="1"/>
<line x1="424.04" y1="361.8" x2="424.04" y2="364.40000000000003" stroke="#222" stroke-width="1"/>
<line x1="464.52" y1="361.8" x2="464.52" y2="364.40000000000003" stroke="#222" stroke-width="1"/>
<line x1="505.00" y1="361.8" x2="505.00" y2="364.40000000000003" stroke="#222" stroke-width="1"/>
<text x="302.60" y="373.6" font-size="8.2" text-anchor="middle">10<tspan font-size="5.6" dy="-2.6">6</tspan></text>
<text x="343.08" y="373.6" font-size="8.2" text-anchor="middle">10<tspan font-size="5.6" dy="-2.6">7</tspan></text>
<text x="383.56" y="373.6" font-size="8.2" text-anchor="middle">10<tspan font-size="5.6" dy="-2.6">8</tspan></text>
<text x="424.04" y="373.6" font-size="8.2" text-anchor="middle">10<tspan font-size="5.6" dy="-2.6">9</tspan></text>
<text x="464.52" y="373.6" font-size="8.2" text-anchor="middle">10<tspan font-size="5.6" dy="-2.6">10</tspan></text>
<text x="505.00" y="373.6" font-size="8.2" text-anchor="middle">10<tspan font-size="5.6" dy="-2.6">11</tspan></text>
<text x="299.0" y="364.40" font-size="8.2" text-anchor="end" font-weight="normal">0.02</text>
<text x="299.0" y="337.44" font-size="8.2" text-anchor="end" font-weight="normal">0.2</text>
<text x="299.0" y="310.48" font-size="8.2" text-anchor="end" font-weight="normal">2</text>
<text x="299.0" y="283.52" font-size="8.2" text-anchor="end" font-weight="normal">20</text>
<text x="299.0" y="256.56" font-size="8.2" text-anchor="end" font-weight="normal">200</text>
<text x="299.0" y="229.60" font-size="8.2" text-anchor="end" font-weight="normal">2,000</text>
<text x="379.6" y="386.0" font-size="8.2" text-anchor="start" font-weight="normal" textLength="59.6" lengthAdjust="spacingAndGlyphs">RoB neurons (n)</text>
<text transform="translate(275.8,291.8) rotate(-90)" x="0" y="0" font-size="8.2" text-anchor="middle" textLength="49.4" lengthAdjust="spacingAndGlyphs">RoB mass (g)</text>
<text x="267.7" y="386.0" font-size="9.0" text-anchor="start" font-weight="bold">c</text>
<circle cx="444.2" cy="316.2" r="2.9" fill="#000"/>
<polygon points="444.20,324.95 440.95,331.05 447.45,331.05" fill="#000"/>
<polygon points="444.20,337.20 445.30,338.70 446.80,339.80 445.30,340.90 444.20,342.40 443.10,340.90 441.60,339.80 443.10,338.70" fill="#000"/>
<circle cx="444.5" cy="351.2" r="2.45" fill="none" stroke="#111" stroke-width="1.0"/>
<text x="452.5" y="319.20" font-size="8.2" text-anchor="start" font-weight="normal" textLength="21.4" lengthAdjust="spacingAndGlyphs">Glires</text>
<text x="452.5" y="330.90" font-size="8.2" text-anchor="start" font-weight="normal" textLength="28.8" lengthAdjust="spacingAndGlyphs">Primata</text>
<text x="452.5" y="342.60" font-size="8.2" text-anchor="start" font-weight="normal" textLength="41.7" lengthAdjust="spacingAndGlyphs">Scandentia</text>
<text x="452.5" y="354.30" font-size="8.2" text-anchor="start" font-weight="normal" textLength="47.6" lengthAdjust="spacingAndGlyphs">Eulipotyphla</text>
<polygon points="417.20,256.75 413.95,262.85 420.45,262.85" fill="#000"/>
<polygon points="401.00,279.25 397.75,285.35 404.25,285.35" fill="#000"/>
<polygon points="386.40,286.85 383.15,292.95 389.65,292.95" fill="#000"/>
<polygon points="374.40,288.25 371.15,294.35 377.65,294.35" fill="#000"/>
<polygon points="376.00,294.45 372.75,300.55 379.25,300.55" fill="#000"/>
<polygon points="370.80,300.05 367.55,306.15 374.05,306.15" fill="#000"/>
<polygon points="372.00,303.55 368.75,309.65 375.25,309.65" fill="#000"/>
<polygon points="355.50,304.15 352.25,310.25 358.75,310.25" fill="#000"/>
<polygon points="361.80,307.95 358.55,314.05 365.05,314.05" fill="#000"/>
<polygon points="344.20,320.85 340.95,326.95 347.45,326.95" fill="#000"/>
<circle cx="384.8" cy="281.4" r="2.9" fill="#000"/>
<circle cx="368.5" cy="295.4" r="2.9" fill="#000"/>
<circle cx="360.4" cy="302.4" r="2.9" fill="#000"/>
<circle cx="364.4" cy="308.8" r="2.9" fill="#000"/>
<circle cx="362.0" cy="311.2" r="2.9" fill="#000"/>
<circle cx="357.1" cy="313.7" r="2.9" fill="#000"/>
<circle cx="348.4" cy="318.6" r="2.9" fill="#000"/>
<circle cx="353.9" cy="320.8" r="2.9" fill="#000"/>
<circle cx="333.7" cy="327.5" r="2.9" fill="#000"/>
<circle cx="346.3" cy="336.7" r="2.9" fill="#000"/>
<circle cx="352.1" cy="327.5" r="2.45" fill="none" stroke="#111" stroke-width="1.0"/>
<circle cx="337.1" cy="333.4" r="2.45" fill="none" stroke="#111" stroke-width="1.0"/>
<circle cx="340.2" cy="332.2" r="2.45" fill="none" stroke="#111" stroke-width="1.0"/>
<circle cx="335.1" cy="341.5" r="2.45" fill="none" stroke="#111" stroke-width="1.0"/>
<circle cx="333.0" cy="347.2" r="2.45" fill="none" stroke="#111" stroke-width="1.0"/>
</svg>
</body></html>
